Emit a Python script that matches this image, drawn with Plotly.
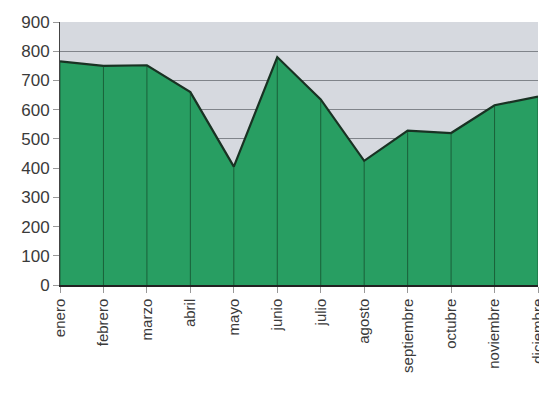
import plotly.graph_objects as go

months = ["enero", "febrero", "marzo", "abril", "mayo", "junio", "julio",
          "agosto", "septiembre", "octubre", "noviembre", "diciembre"]
values = [765, 750, 752, 660, 405, 780, 635, 425, 528, 520, 615, 645]
y_ticks = [0, 100, 200, 300, 400, 500, 600, 700, 800, 900]

fig = go.Figure()
fig.add_trace(go.Scatter(
    x=months, y=values, mode="lines", fill="tozeroy",
    fillcolor="rgb(40,158,98)", line=dict(color="rgb(25,50,35)", width=2.2),
    hoverinfo="skip"))

# drop lines from each point
dx, dy = [], []
for m, v in zip(months, values):
    dx += [m, m, None]
    dy += [0, v, None]
fig.add_trace(go.Scatter(x=dx, y=dy, mode="lines",
                         line=dict(color="rgba(20,70,40,0.7)", width=1),
                         hoverinfo="skip"))

fig.update_layout(
    width=539, height=395,
    margin=dict(l=52, r=9, t=14, b=118),
    paper_bgcolor="white", plot_bgcolor="rgb(214,217,223)",
    showlegend=False,
    font=dict(family="Liberation Sans, Arial, sans-serif", color="#3a3a3a", size=15),
    xaxis=dict(type="category", range=[0, 11], tickangle=-90, automargin=False,
               showgrid=False, ticks="outside", ticklen=6, tickcolor="#999",
               showline=True, linecolor="#222", linewidth=1.5,
               tickfont=dict(size=15)),
    yaxis=dict(range=[0, 900], tickvals=y_ticks, showgrid=True, automargin=False,
               gridcolor="rgb(128,132,138)", gridwidth=1,
               ticks="outside", ticklen=6, tickcolor="#999",
               showline=True, linecolor="#444", linewidth=1,
               zeroline=False, tickfont=dict(size=17)),
)

fig.write_html("out.html")
